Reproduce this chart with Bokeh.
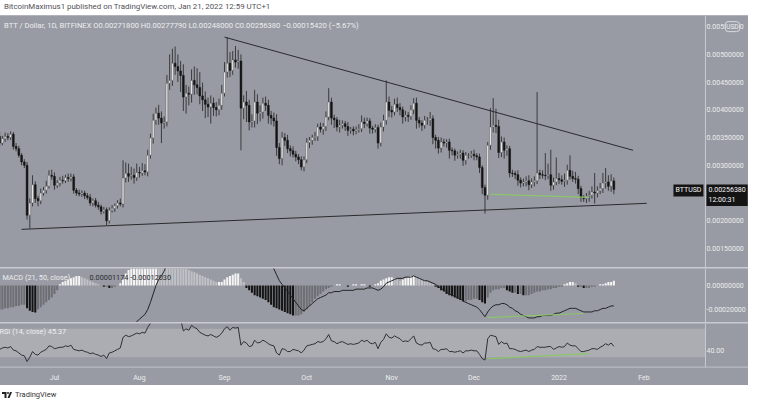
import numpy as np
import pandas as pd
from bokeh.plotting import figure
from bokeh.layouts import column
from bokeh.models import (Range1d, FixedTicker, NumeralTickFormatter, Label,
                          BoxAnnotation, Div, Span)
from bokeh.embed import file_html
from bokeh.resources import INLINE

# ---------------- data (prices / MACD in units of 1e-5) ----------------
SCALE = 1e-5
start_date = "2021-06-10"
first_open = 355
closes = [352, 340, 348, 352, 350, 356, 334, 330, 318, 306,
          300, 210, 232, 265, 240, 236, 250, 255, 262, 282,
          280, 264, 268, 273, 272, 278, 276, 279, 255, 250,
          248, 250, 245, 242, 232, 236, 228, 225, 217, 220,
          200, 219, 222, 227, 232, 230, 277, 285, 280, 282,
          278, 287, 286, 290, 288, 318, 349, 381, 394, 385,
          376, 378, 448, 453, 484, 478, 470, 462, 423, 430,
          428, 453, 445, 440, 425, 418, 410, 405, 412, 404,
          400, 408, 430, 468, 484, 471, 490, 486, 488, 403,
          414, 408, 378, 380, 414, 394, 396, 412, 408, 390,
          385, 380, 332, 312, 350, 345, 330, 326, 320, 315,
          310, 297, 310, 341, 345, 350, 352, 369, 365, 370,
          387, 414, 385, 382, 369, 372, 375, 370, 363, 365,
          362, 364, 366, 378, 375, 380, 367, 365, 368, 340,
          369, 381, 414, 399, 396, 410, 404, 400, 387, 390,
          388, 400, 412, 381, 376, 372, 381, 381, 384, 350,
          345, 331, 342, 340, 342, 327, 326, 318, 320, 322,
          309, 318, 318, 320, 317, 315, 296, 260, 246, 336,
          369, 372, 370, 323, 342, 327, 330, 286, 285, 283,
          273, 268, 270, 272, 265, 270, 272, 286, 283, 282,
          281, 283, 264, 270, 276, 274, 271, 273, 291, 280,
          276, 275, 258, 242, 240, 244, 246, 252, 250, 254,
          258, 268, 270, 262, 271.8, 256.38]
wick_up = [6, 8, 5, 7, 6, 5, 4, 6, 5, 4,
           5, 6, 8, 17, 6, 5, 8, 6, 10, 9,
           10, 7, 5, 6, 8, 5, 7, 6, 5, 4,
           6, 5, 4, 5, 6, 4, 5, 6, 4, 5,
           4, 5, 6, 4, 5, 8, 32, 20, 18, 15,
           12, 16, 10, 14, 12, 10, 8, 12, 10, 15,
           12, 10, 15, 47, 26, 30, 22, 18, 20, 15,
           12, 20, 25, 30, 28, 24, 15, 12, 14, 10,
           10, 12, 15, 18, 47, 20, 16, 25, 20, 12,
           12, 20, 10, 12, 22, 14, 12, 10, 12, 10,
           8, 10, 12, 8, 10, 8, 10, 6, 8, 6,
           5, 6, 6, 8, 6, 5, 8, 6, 8, 6,
           10, 25, 8, 6, 5, 10, 6, 5, 8, 4,
           5, 6, 8, 12, 8, 6, 5, 4, 6, 5,
           8, 10, 39, 10, 8, 10, 12, 8, 6, 8,
           6, 8, 9, 10, 6, 5, 8, 6, 12, 6,
           5, 6, 8, 6, 5, 6, 5, 4, 5, 6,
           5, 6, 4, 6, 8, 5, 6, 4, 5, 6,
           34, 49, 30, 12, 10, 8, 6, 5, 6, 5,
           8, 5, 6, 8, 10, 6, 8, 146, 6, 8,
           40, 20, 45, 8, 38, 10, 8, 12, 10, 27,
           10, 12, 6, 5, 4, 6, 8, 10, 34, 8,
           10, 18, 25, 12, 12, 6]
wick_dn = [5, 6, 4, 6, 5, 4, 6, 5, 4, 6,
           5, 8, 24, 6, 8, 10, 6, 5, 6, 4,
           6, 8, 5, 6, 5, 4, 6, 5, 6, 5,
           4, 5, 6, 4, 5, 6, 4, 5, 6, 4,
           8, 5, 4, 6, 5, 4, 6, 8, 10, 6,
           11, 6, 8, 5, 6, 8, 6, 10, 8, 12,
           36, 10, 8, 12, 10, 15, 20, 30, 25, 30,
           20, 15, 18, 12, 15, 20, 25, 18, 30, 15,
           12, 10, 8, 6, 10, 12, 8, 10, 12, 76,
           20, 30, 15, 10, 12, 20, 15, 12, 10, 15,
           12, 10, 15, 10, 12, 10, 8, 10, 6, 8,
           8, 6, 8, 6, 10, 8, 6, 8, 6, 10,
           8, 6, 12, 15, 8, 10, 6, 8, 10, 6,
           8, 6, 5, 6, 8, 5, 10, 8, 6, 10,
           6, 8, 8, 12, 10, 6, 8, 10, 12, 8,
           10, 6, 8, 15, 8, 10, 6, 8, 10, 12,
           15, 10, 8, 6, 8, 15, 8, 10, 6, 8,
           10, 8, 6, 5, 8, 6, 10, 12, 33, 8,
           8, 10, 12, 10, 8, 15, 10, 8, 6, 8,
           10, 8, 6, 8, 10, 6, 8, 6, 8, 6,
           8, 6, 10, 8, 6, 8, 6, 10, 8, 6,
           6, 8, 10, 8, 6, 8, 10, 6, 19, 8,
           6, 8, 10, 8, 10, 8.38]
macd_line = [-33, -34, -34, -35, -35, -36, -37, -38, -39, -40, -41,
             -46, -49, -50, -51, -52, -52, -52, -51, -50, -49,
             -48, -47, -46, -45, -44, -43, -42, -42, -43, -43,
             -44, -44, -45, -45, -46, -46, -47, -47, -48, -49,
             -49, -49, -48, -47, -46, -42, -39, -37, -35, -33,
             -30, -28, -26, -24, -20, -14, -7, 0, 5, 8, 12,
             18, 24, 30, 34, 37, 39, 39, 40, 40, 41,
             42, 42, 41, 40, 39, 38, 37, 36, 35, 34,
             34, 35, 37, 37, 38, 39, 39, 36, 34, 33,
             31, 29, 28, 27, 25, 24, 23, 21, 18, 14,
             9, 4, 1, -2, -5, -8, -11, -14, -17, -20,
             -21, -19, -17, -15, -13, -11, -10, -9, -8, -6,
             -6, -5, -5, -5, -4, -4, -4, -4, -4, -3,
             -3, -3, -3, -2, -2, -2, -3, -4, -3, -1,
             2, 3, 4, 5, 6, 6, 6, 7, 7, 7,
             8, 7, 6, 5, 4, 4, 3, 2, 1, -1,
             -2, -4, -5, -7, -8, -9, -10, -11, -13, -14,
             -15, -16, -17, -18, -20, -23, -26, -22, -19, -17,
             -16, -16, -15, -15, -16, -18, -19, -21, -22, -24,
             -25, -26, -27, -27, -27, -26, -26, -25, -25, -25,
             -25, -24, -23, -23, -22, -21, -20, -19, -19, -19,
             -20, -21, -22, -22, -22, -22, -21, -21, -20, -19,
             -19, -18, -17, -17]
macd_hist = [-21, -20, -20, -19, -19, -18, -18, -17, -17, -16, -16,
             -19, -21, -22, -22.5,
             -20, -18, -16, -14, -12, -10, -7, -4,
             1, 3, 4, 5, 6, 7, 8, 8, 7, 6,
             5, 4, 3, 2, 1, 0, -1, -1, -2, -2, -1, 0, 2, 5,
             10, 13, 16, 18, 20, 22, 23, 25, 27, 29, 31, 32, 30, 28, 27, 26, 25, 24, 22, 20,
             17, 15, 14, 13, 12, 11, 10, 9, 8, 7,
             6, 5, 4, 3, 3, 3,
             5, 7, 8, 9, 10, 10,
             6, 3,
             -2, -4, -6, -8, -9, -10, -11, -12,
             -14, -16, -18, -19, -20, -21, -22, -23, -24, -25, -25, -25, -24,
             -22, -20, -17, -14, -11, -9, -7, -5, -3, -2,
             -1, 0, 1, 1, 0, 0, -1, 0, 1, 1, 0, 1, 1, 0, -1, 0,
             1, 2, 4, 5, 6, 7, 7, 6, 5, 4,
             5, 6, 7, 8, 8, 7,
             6, 5, 4, 3, 2, 1,
             -1, -2, -4, -5, -7, -8, -9, -10, -11, -12, -13,
             -13, -12, -12, -11, -11, -12,
             -14, -15,
             -10, -6, -4, -3, -3, -2, -2,
             -4, -5, -6, -6, -7, -7, -8, -8, -8,
             -7, -6, -5, -5, -4, -4, -3, -3, -2, -2, -1, -1,
             1, 2, 3, 3, 2,
             -1, -1, -2, -2, -2, -1, -1, 0,
             1, 1, 2, 3, 3, 4]
rsi = [44, 41, 43, 44, 43, 45, 40, 39, 36, 33, 32,
       24,
       30, 38, 34, 33, 37, 39, 41, 46, 45,
       42, 43, 44, 44, 46, 45, 47, 41, 40, 39,
       40, 38, 37, 35, 36, 34, 33, 31, 33, 28,
       36, 37, 39, 41, 43, 58, 61, 59, 60, 62,
       64, 63, 65, 64, 72, 78, 83, 85, 82, 80, 81, 88, 88, 90, 88, 86,
       84, 67, 70, 68, 75, 72, 70, 65, 63, 61, 60, 62, 60, 58,
       60, 64, 70, 73, 68, 72, 71, 72, 47, 52,
       50, 45, 46, 54, 50, 51, 54, 52, 49, 47,
       46, 36, 33, 42, 41, 38, 38, 41, 40, 39, 36, 40,
       46, 47, 48, 49, 52, 51, 52, 56, 62, 53, 52, 49, 51,
       52, 50, 48, 49, 48, 49, 50, 54, 52, 54, 50, 49, 51, 42,
       51, 55, 63, 58, 57, 60, 58, 56, 52, 53, 52, 56, 60,
       50, 48, 47, 50, 50, 51, 42, 41, 38, 41, 41, 42, 38, 38,
       37, 38, 39, 36, 39, 39, 40, 39, 39, 34, 28, 26,
       56, 61, 60, 59, 48, 52, 49, 50, 42, 42, 41, 39,
       38, 39, 40, 38, 40, 41, 45, 44, 44, 44, 45, 45, 41, 43,
       45, 44, 45, 50, 47, 46, 46, 42, 38, 38,
       39, 40, 42, 42, 41, 44, 46, 49, 47, 50, 45.37]

month_labels = ["Jul", "Aug", "Sep", "Oct", "Nov", "Dec", "2022", "Feb"]
month_starts = ["2021-07-01", "2021-08-01", "2021-09-01", "2021-10-01",
                "2021-11-01", "2021-12-01", "2022-01-01", "2022-02-01"]
price_ticks = [0.0015, 0.0020, 0.0025, 0.0030, 0.0035, 0.0040, 0.0045, 0.0050, 0.0055]
macd_ticks = [0.0, -0.0002]
rsi_ticks = [40]

# drawings
resistance_dates = ["2021-09-01", "2022-01-28"]
resistance_prices = [0.00531, 0.00327]
support_dates = ["2021-06-19", "2022-02-02"]
support_prices = [0.001845, 0.002314]
green_price_dates = ["2021-12-07", "2022-01-12"]
green_price_vals = [0.002477, 0.002422]
green_macd_dates = ["2021-12-06", "2022-01-10"]
green_macd_vals = [-0.000267, -0.000233]
green_rsi_dates = ["2021-12-06", "2022-01-12"]
green_rsi_vals = [28, 35]

header_text = "BitcoinMaximus1 published on TradingView.com, Jan 21, 2022 12:59 UTC+1"
legend_price = ("BTT / Dollar, 1D, BITFINEX  O0.00271800  H0.00277790  L0.00248000  "
                "C0.00256380  \u22120.00015420 (\u22125.67%)")
legend_macd = "MACD (21, 50, close)"
legend_macd_vals = "0.00001174  -0.00012030"
legend_rsi = "RSI (14, close)  45.37"

# ---------------- derived ----------------
day0 = pd.Timestamp(start_date)
def didx(d):
    return (pd.Timestamp(d) - day0).days

n = len(closes)
idx = np.arange(n)
c = np.array(closes, dtype=float) * SCALE
o = np.array([first_open] + closes[:-1], dtype=float) * SCALE
hi = np.maximum(o, c) + np.array(wick_up) * SCALE
lo = np.minimum(o, c) - np.array(wick_dn) * SCALE
up = c >= o
macd = np.array(macd_line, dtype=float) * SCALE
hist = np.array(macd_hist, dtype=float) * SCALE
month_idx = [didx(d) for d in month_starts]

BG = "#989ba3"
SEP = "#c9cbd0"
TXT = "#eceef0"
WICK = "#3a3b3e"
FONT = "Roboto"

# chart area spans the price-scale column too; price scale starts at X_SEP
X0, X1 = -0.51, 274.1
X_SEP = 258.4
x_rng = Range1d(X0, X1)
RSI_LO, RSI_HI = 15.5, 77.5


def base(fh, yr, xaxis=False):
    p = figure(frame_width=753, frame_height=fh, x_range=x_rng, y_range=yr,
               y_axis_location="right", x_axis_location="below" if xaxis else None,
               toolbar_location=None, output_backend="svg",
               min_border_left=0, min_border_right=0, min_border_top=0,
               min_border_bottom=18 if xaxis else 0)
    p.background_fill_color = BG
    p.border_fill_color = BG
    p.outline_line_color = None
    p.xgrid.visible = False
    p.ygrid.visible = False
    ax = p.yaxis[0]
    ax.axis_line_color = None
    ax.major_tick_line_color = None
    ax.minor_tick_line_color = None
    ax.major_tick_out = 0
    ax.major_tick_in = 0
    ax.minor_tick_out = 0
    ax.minor_tick_in = 0
    ax.major_label_text_color = TXT
    ax.major_label_text_font = FONT
    ax.major_label_text_font_size = "7px"
    ax.major_label_standoff = -42
    p.add_layout(Span(location=X_SEP, dimension="height", line_color=SEP, line_width=1))
    return p


# ---------------- price pane ----------------
p1 = base(252, Range1d(0.001157, 0.0057))
p1.yaxis[0].ticker = FixedTicker(ticks=price_ticks)
p1.yaxis[0].formatter = NumeralTickFormatter(format="0.00000000")

p1.segment(x0=idx, y0=lo, x1=idx, y1=hi, line_color=WICK, line_width=1)
p1.vbar(x=idx[up], top=c[up], bottom=o[up], width=0.66,
        fill_color="#f2f2f2", line_color="#5a5b5f", line_width=0.5)
p1.vbar(x=idx[~up], top=o[~up], bottom=c[~up], width=0.66,
        fill_color="#141414", line_color="#141414", line_width=0.5)

p1.line([didx(d) for d in resistance_dates], resistance_prices, line_color="#2a2b2e", line_width=1)
p1.line([didx(d) for d in support_dates], support_prices, line_color="#2a2b2e", line_width=1)
p1.line([didx(d) for d in green_price_dates], green_price_vals, line_color="#8cc56b", line_width=1.2)

p1.add_layout(Label(x=2.6, y=0.005527, text=legend_price, text_font=FONT,
                    text_font_size="7.6px", text_color=TXT, text_baseline="middle"))
p1.add_layout(Label(x=X_SEP, y=0.0055, x_offset=27, text="USD", text_font=FONT,
                    text_font_size="6.5px", text_color=TXT, text_align="center",
                    text_baseline="middle", background_fill_color=BG,
                    border_line_color="#e8e9ec", border_line_width=0.8,
                    padding=1, border_radius=3))
p1.add_layout(Label(x=X_SEP, y=c[-1], x_offset=1, y_offset=5,
                    text=f"{c[-1]:.8f}\n12:00:31", text_font=FONT,
                    text_font_size="7px", text_color="#f4f4f4", text_baseline="top",
                    background_fill_color="#141414", padding=2))
p1.add_layout(Label(x=X_SEP, y=c[-1], x_offset=-32, y_offset=5,
                    text="BTTUSD", text_font=FONT,
                    text_font_size="7px", text_color="#f4f4f4", text_baseline="top",
                    background_fill_color="#141414", padding=2))

# ---------------- MACD pane ----------------
p2 = base(54, Range1d(-0.000308, 0.000142))
p2.yaxis[0].ticker = FixedTicker(ticks=macd_ticks)
p2.yaxis[0].formatter = NumeralTickFormatter(format="0.00000000")

hist_colors = []
prev = 0.0
for h in hist:
    if h >= 0:
        hist_colors.append("#f4f4f4" if h >= prev else "#bfc1c6")
    else:
        hist_colors.append("#141414" if h < prev else "#6d6f75")
    prev = h
p2.vbar(x=idx, top=hist, bottom=0, width=0.75, fill_color=hist_colors, line_color=None)
p2.line(idx, macd, line_color="#222326", line_width=1)
p2.line([didx(d) for d in green_macd_dates], green_macd_vals, line_color="#8cc56b", line_width=1.2)
p2.add_layout(Label(x=2.0, y=0.000068, text=legend_macd, text_font=FONT,
                    text_font_size="7.3px", text_color=TXT, text_baseline="middle"))
p2.add_layout(Label(x=33.8, y=0.000068, text=legend_macd_vals, text_font=FONT,
                    text_font_size="7.3px", text_color="#2a2b2e", text_baseline="middle"))

# ---------------- RSI pane ----------------
p3 = base(44, Range1d(RSI_LO, RSI_HI), xaxis=True)
p3.yaxis[0].ticker = FixedTicker(ticks=rsi_ticks)
p3.yaxis[0].formatter = NumeralTickFormatter(format="0.00")
p3.add_layout(BoxAnnotation(bottom=30, top=70, right=X_SEP, fill_color="#abadb3",
                            fill_alpha=1, line_color=None, level="underlay"))
p3.add_layout(Span(location=RSI_LO + 0.5, dimension="width", line_color=SEP, line_width=1))
p3.line(idx, rsi, line_color="#2f3033", line_width=1)
p3.line([didx(d) for d in green_rsi_dates], green_rsi_vals, line_color="#8cc56b", line_width=1.2)
p3.add_layout(Label(x=0.95, y=66.2, text=legend_rsi, text_font=FONT,
                    text_font_size="7.3px", text_color=TXT, text_baseline="middle"))
xa = p3.xaxis[0]
xa.ticker = FixedTicker(ticks=month_idx)
xa.major_label_overrides = {i: l for i, l in zip(month_idx, month_labels)}
xa.axis_line_color = None
xa.major_tick_line_color = None
xa.minor_tick_line_color = None
xa.major_tick_out = 0
xa.major_tick_in = 0
xa.minor_tick_out = 0
xa.major_label_text_color = TXT
xa.major_label_text_font = FONT
xa.major_label_text_font_size = "7px"
xa.major_label_standoff = 6

# ---------------- page ----------------
header = Div(text=f'<div style="font-family:Roboto;font-size:7.9px;color:#505156;'
                  f'padding:4px 0 0 7px;white-space:nowrap">{header_text}</div>',
             width=768, height=13)
footer = Div(text='<div style="font-family:Roboto;font-size:7.5px;color:#333;position:relative;'
                  'top:-4px;padding:0 0 0 5px;display:flex;align-items:center;white-space:nowrap">'
                  '<svg width="10" height="6" style="margin-right:3px">'
                  '<path d="M0 0h4.5v6h-2v-4h-2.5z" fill="#222"/>'
                  '<circle cx="6" cy="1" r="1" fill="#222"/>'
                  '<path d="M8 0h2l-2.5 6h-2z" fill="#222"/></svg>TradingView</div>',
             width=768, height=20)

charts = column(p1, p2, p3, spacing=1, margin=(0, 0, 0, 3),
                styles={"background-color": SEP})
page = column(header, charts, footer, margin=(-8, 0, 0, -8))

open("out.html", "w").write(file_html(page, INLINE))
